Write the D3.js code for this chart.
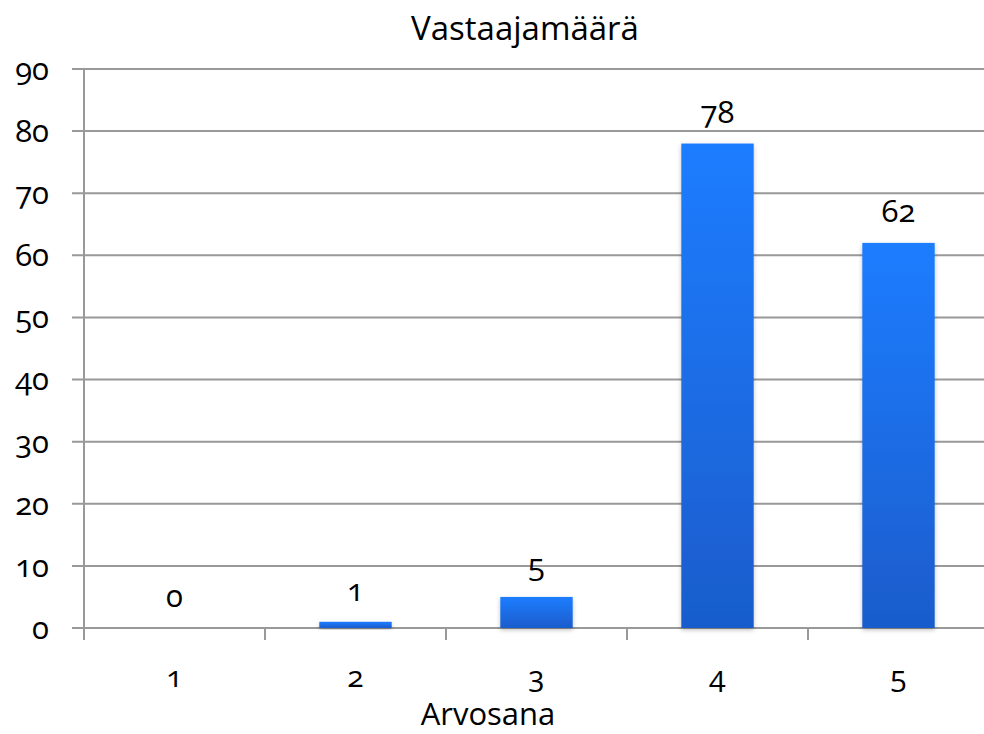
<!DOCTYPE html>
<html><head><meta charset="utf-8">
<script src="https://cdn.jsdelivr.net/npm/d3@7"></script>
<style>
body{margin:0;background:#fff;}
svg text{font-family:"Open Sans","Lato",sans-serif;font-variant-numeric:oldstyle-nums;font-feature-settings:"onum" 1;fill:#000;}
</style></head><body>
<svg id="c" width="984" height="734"></svg>
<script>
const categories = ["1","2","3","4","5"];
const values = [0,1,5,78,62];
const yTicks = [0,10,20,30,40,50,60,70,80,90];
const title = "Vastaajamäärä";
const xTitle = "Arvosana";

(function(){
const svg = d3.select("#c");
const mLeft = 84, mRight = 989, mTop = 69, mBottom = 628;
const x = d3.scaleBand().domain(categories).range([mLeft,mRight]).paddingInner(0.6).paddingOuter(0.3);
const xb = d3.scaleBand().domain(categories).range([mLeft,mRight]);
const y = d3.scaleLinear().domain([0,90]).range([mBottom,mTop]);

const defs = svg.append("defs");
const g = defs.append("linearGradient").attr("id","bg").attr("x1",0).attr("y1",0).attr("x2",0).attr("y2",1);
g.append("stop").attr("offset","0%").attr("stop-color","#1f7dff");
g.append("stop").attr("offset","100%").attr("stop-color","#195ccc");
const f = defs.append("filter").attr("id","sh").attr("x","-20%").attr("y","-20%").attr("width","140%").attr("height","140%");
f.append("feDropShadow").attr("dx",0).attr("dy",2).attr("stdDeviation",2).attr("flood-color","#000").attr("flood-opacity",0.25);

svg.append("g").selectAll("line").data(yTicks).join("line")
  .attr("x1",72).attr("x2",984).attr("y1",d=>y(d)).attr("y2",d=>y(d))
  .attr("stroke","#999").attr("stroke-width",2);
svg.append("line").attr("x1",mLeft).attr("x2",mLeft).attr("y1",mTop).attr("y2",mBottom+12)
  .attr("stroke","#999").attr("stroke-width",2);
svg.append("g").selectAll("line").data(categories).join("line")
  .attr("x1",d=>xb(d)).attr("x2",d=>xb(d)).attr("y1",mBottom).attr("y2",mBottom+12)
  .attr("stroke","#999").attr("stroke-width",2);

svg.append("g").selectAll("rect").data(values).join("rect")
  .attr("x",(d,i)=>x(categories[i])).attr("width",x.bandwidth())
  .attr("y",d=>y(d)).attr("height",d=>mBottom-y(d))
  .attr("fill","url(#bg)").attr("filter","url(#sh)");

svg.append("g").selectAll("text").data(yTicks).join("text")
  .attr("x",49).attr("y",d=>y(d)).attr("dy","0.35em").attr("text-anchor","end")
  .attr("font-size",31).text(d=>d);
svg.append("g").selectAll("text").data(categories).join("text")
  .attr("x",d=>xb(d)+xb.bandwidth()/2).attr("y",676).attr("dy","0.35em").attr("text-anchor","middle")
  .attr("font-size",30).text(d=>d);
svg.append("g").selectAll("text").data(values).join("text")
  .attr("x",(d,i)=>x(categories[i])+x.bandwidth()/2).attr("y",d=>y(d)-21)
  .attr("text-anchor","middle").attr("font-size",31).text(d=>d);

svg.append("text").attr("x",525).attr("y",40).attr("text-anchor","middle").attr("font-size",33).text(title);
svg.append("text").attr("x",488).attr("y",725).attr("text-anchor","middle").attr("font-size",31).text(xTitle);
})();
</script></body></html>
